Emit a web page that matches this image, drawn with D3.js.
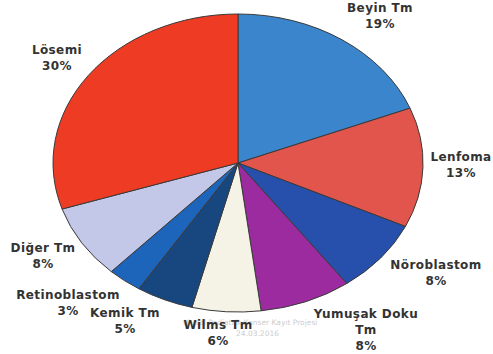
<!DOCTYPE html>
<html>
<head>
<meta charset="utf-8">
<script src="https://cdn.jsdelivr.net/npm/d3@7"></script>
<style>
  body { margin: 0; background: #fff; }
  svg { display: block; }
</style>
</head>
<body>
<div id="chart"></div>
<script>
const WIDTH = 493, HEIGHT = 354;
const CX = 238, CY = 163, RX = 185, RY = 149;

// slices clockwise from 12 o'clock
const names = ["Beyin Tm", "Lenfoma", "Nöroblastom", "Yumuşak Doku Tm", "Wilms Tm", "Kemik Tm", "Retinoblastom", "Diğer Tm", "Lösemi"];
const values = [19, 13, 8, 8, 6, 5, 3, 8, 30];
const colors = ["#3a85cc", "#e2554c", "#2650ac", "#9b2b9e", "#f5f3e6", "#17477e", "#1d64bb", "#c3c7e8", "#ee3b23"];
// label lines per slice
const labelLines = [["Beyin Tm"], ["Lenfoma"], ["Nöroblastom"], ["Yumuşak Doku", "Tm"], ["Wilms Tm"], ["Kemik Tm"], ["Retinoblastom"], ["Diğer Tm"], ["Lösemi"]];
const labelPos = [[380, 12], [461, 161], [436, 269], [366, 318], [218, 329], [125, 317], [68, 299], [43, 252], [57, 54]];

const data = names.map((n, i) => ({ name: n, value: values[i], color: colors[i], lines: labelLines[i], pos: labelPos[i] }));

const svg = d3.select("#chart").append("svg")
  .attr("width", WIDTH).attr("height", HEIGHT);

// draw a unit pie, then squash it into an ellipse
const pie = d3.pie().value(d => d.value).sort(null);
const arc = d3.arc().innerRadius(0).outerRadius(1);
const g = svg.append("g")
  .attr("transform", `translate(${CX},${CY}) scale(${RX},${RY})`);

g.selectAll("path").data(pie(data)).join("path")
  .attr("d", arc)
  .attr("fill", d => d.data.color)
  .attr("stroke", "#3a3a3a")
  .attr("stroke-width", 1)
  .attr("vector-effect", "non-scaling-stroke");

// faint watermark
const wm = svg.append("g").attr("fill", "#9a9a9a").attr("opacity", 0.5)
  .attr("font-family", "DejaVu Sans, sans-serif").attr("font-size", 7.5);
wm.append("text").attr("x", 183).attr("y", 325).text("Ulusal Pediatrik Kanser Kayıt Projesi");
wm.append("text").attr("x", 236).attr("y", 336).text("24.03.2016");

const labels = svg.append("g")
  .attr("font-family", "DejaVu Sans, Verdana, sans-serif")
  .attr("font-weight", "bold")
  .attr("font-size", 12)
  .attr("letter-spacing", 0.4)
  .attr("fill", "#333")
  .attr("text-anchor", "middle");

data.forEach(d => {
  const t = labels.append("text").attr("x", d.pos[0]).attr("y", d.pos[1]);
  d.lines.concat([d.value + "%"]).forEach((s, i) => {
    t.append("tspan").attr("x", d.pos[0]).attr("dy", i ? 16 : 0).text(s);
  });
});
</script>
</body>
</html>
